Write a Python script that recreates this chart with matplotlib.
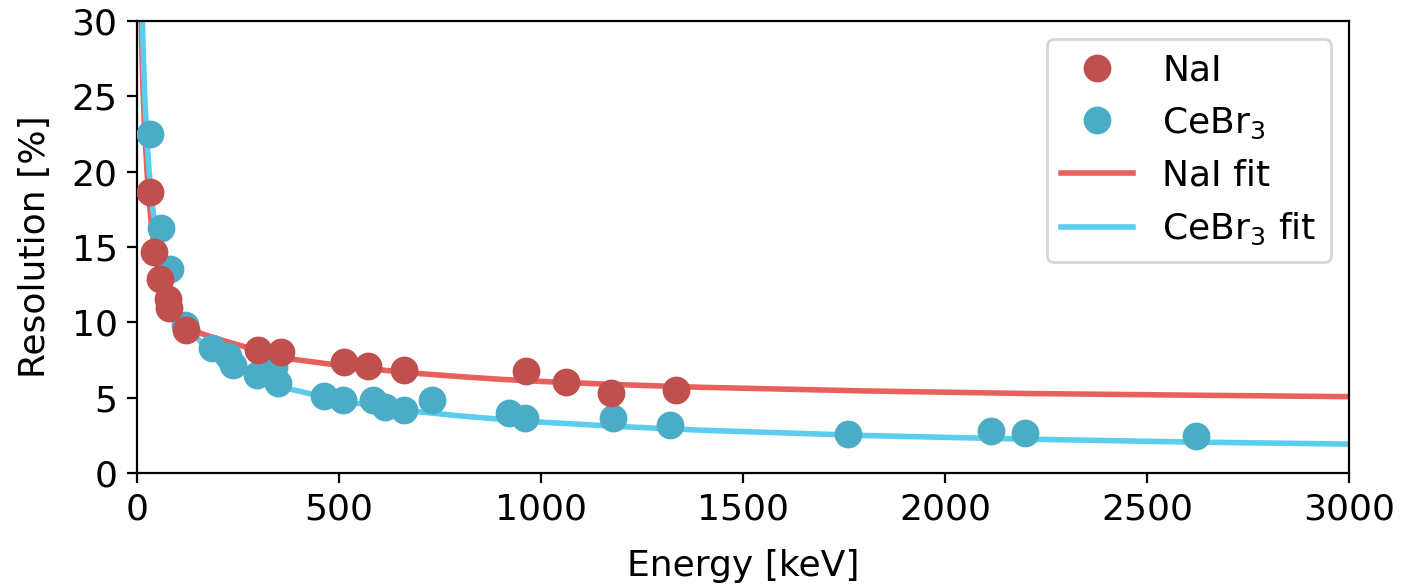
import matplotlib.pyplot as plt

# measured points
nai_energy = [32, 42, 58, 77, 79, 121, 300, 356, 512, 572, 661, 962, 1063, 1172, 1333]
nai_res = [18.65, 14.67, 12.9, 11.55, 10.95, 9.5, 8.16, 8.03, 7.37, 7.12, 6.87, 6.77, 6.06, 5.33, 5.5]

cebr_energy = [32, 59, 82, 119, 186, 225, 238, 297, 340, 349, 463, 510, 584, 614, 661,
               730, 921, 960, 1178, 1319, 1760, 2114, 2198, 2621]
cebr_res = [22.5, 16.26, 13.54, 9.82, 8.3, 7.75, 7.17, 6.5, 7.05, 5.97, 5.1, 4.84, 4.88,
            4.36, 4.18, 4.84, 3.98, 3.68, 3.65, 3.22, 2.59, 2.79, 2.65, 2.46]

# fit curves
nai_fit_energy = [10, 12, 15, 18, 20, 25, 30, 36, 42, 50, 60, 74, 90, 110, 124, 160, 200,
                  290, 386, 500, 600, 700, 800, 900, 1000, 1200, 1400, 1800, 2200, 2600, 3000]
nai_fit_res = [30.5, 28.0, 25.3, 23.3, 22.3, 19.9, 18.1, 16.4, 15.1, 13.8, 12.6, 11.3, 10.6,
               10.0, 9.7, 9.25, 8.9, 8.2, 7.55, 7.15, 6.85, 6.6, 6.4, 6.22, 6.08, 5.86, 5.69,
               5.45, 5.28, 5.17, 5.07]

cebr_fit_energy = [13, 15, 18, 20, 25, 30, 40, 50, 60, 80, 100, 130, 170, 220, 300, 379,
                   500, 600, 700, 800, 900, 1000, 1200, 1400, 1800, 2200, 2600, 3000]
cebr_fit_res = [30.4, 28.3, 25.8, 24.5, 21.9, 20.0, 17.3, 15.5, 14.1, 12.2, 10.9, 9.55,
                8.34, 7.3, 6.25, 5.57, 4.82, 4.39, 4.06, 3.79, 3.57, 3.38, 3.08, 2.84,
                2.49, 2.25, 2.06, 1.92]

plt.rcParams['font.size'] = 13

fig, ax = plt.subplots(figsize=(7.005, 2.92), dpi=200)
fig.subplots_adjust(left=0.0978, right=0.9629, top=0.964, bottom=0.19)

ax.plot(nai_energy, nai_res, 'o', color='#c0504d', ms=9, ls='none', label='NaI', zorder=4)
ax.plot(cebr_energy, cebr_res, 'o', color='#4bacc6', ms=9, ls='none', label='CeBr$_3$', zorder=3)
ax.plot(nai_fit_energy, nai_fit_res, color='#e8605c', lw=2, label='NaI fit', zorder=2)
ax.plot(cebr_fit_energy, cebr_fit_res, color='#5bcdee', lw=2, label='CeBr$_3$ fit', zorder=2)

ax.set_xlim(0, 3000)
ax.set_ylim(0, 30)
ax.set_xlabel('Energy [keV]', labelpad=8)
ax.set_ylabel('Resolution [%]', labelpad=7)
ax.legend(loc='upper right', fontsize=13)

plt.savefig('out.png', dpi=200)
